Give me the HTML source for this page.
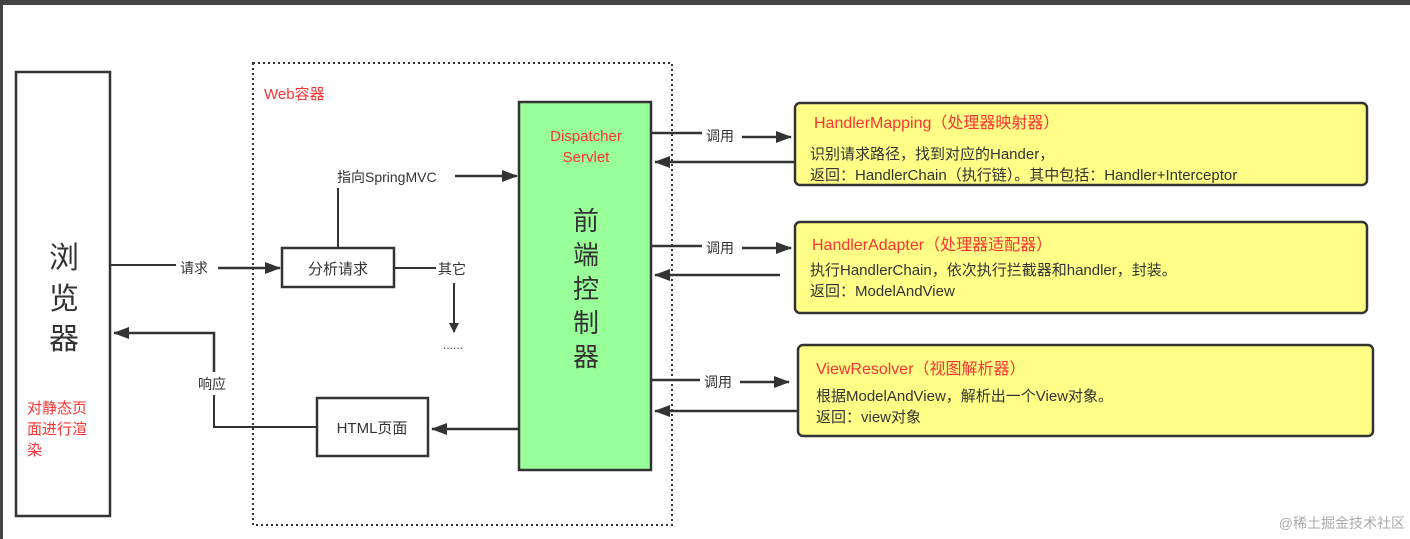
<!DOCTYPE html>
<html><head><meta charset="utf-8"><style>
html,body{margin:0;padding:0;background:#fff;}
svg{display:block;font-family:"Liberation Sans","Noto Sans CJK SC",sans-serif;}
</style></head><body>
<svg width="1410" height="539" viewBox="0 0 1410 539" xmlns="http://www.w3.org/2000/svg">
<defs>
<marker id="a" markerWidth="10" markerHeight="10" refX="9" refY="5" orient="auto" markerUnits="userSpaceOnUse">
<path d="M0,0 L10,5 L0,10 Z" fill="#333"/></marker>
<marker id="b" markerWidth="16" markerHeight="12" refX="15" refY="6" orient="auto" markerUnits="userSpaceOnUse">
<path d="M0,0 L16,6 L0,12 Z" fill="#333"/></marker>
</defs>
<rect x="0" y="0" width="1410" height="5" fill="#444"/>
<rect x="0" y="0" width="3" height="539" fill="#444"/>
<!-- browser -->
<rect x="16" y="72" width="94" height="444" fill="#fff" stroke="#333" stroke-width="2.5"/>
<g font-size="30" fill="#333" text-anchor="middle">
<text x="64" y="268">浏</text><text x="64" y="309">览</text><text x="64" y="349">器</text></g>
<g font-size="15" fill="#f33"><text x="27" y="413">对静态页</text><text x="27" y="434">面进行渲</text><text x="27" y="455">染</text></g>
<!-- web container -->
<rect x="253" y="63" width="419" height="462" fill="none" stroke="#333" stroke-width="2" stroke-dasharray="2,3"/>
<text x="264" y="99" font-size="15" fill="#f33">Web容器</text>
<!-- 分析请求 -->
<line x1="110" y1="265" x2="176" y2="265" stroke="#333" stroke-width="2"/>
<line x1="218" y1="268" x2="280" y2="268" stroke="#333" stroke-width="2.5" marker-end="url(#b)"/>
<text x="180" y="273" font-size="14" fill="#333">请求</text>
<rect x="282" y="248" width="112" height="39" fill="#fff" stroke="#333" stroke-width="2.5"/>
<text x="338" y="274" font-size="15" fill="#333" text-anchor="middle">分析请求</text>
<line x1="338" y1="248" x2="338" y2="188" stroke="#333" stroke-width="2"/>
<text x="337" y="182" font-size="14" fill="#333">指向SpringMVC</text>
<line x1="455" y1="176" x2="517" y2="176" stroke="#333" stroke-width="2.5" marker-end="url(#b)"/>
<line x1="394" y1="268" x2="436" y2="268" stroke="#333" stroke-width="2"/>
<text x="438" y="274" font-size="14" fill="#333">其它</text>
<line x1="454" y1="283" x2="454" y2="332" stroke="#333" stroke-width="2" marker-end="url(#a)"/>
<text x="443" y="349" font-size="12" fill="#333">......</text>
<!-- green -->
<rect x="519" y="102" width="132" height="368" fill="#99ff99" stroke="#333" stroke-width="2.5"/>
<g font-size="15" fill="#f33" text-anchor="middle"><text x="586" y="141">Dispatcher</text><text x="586" y="162">Servlet</text></g>
<g font-size="26" fill="#333" text-anchor="middle">
<text x="586" y="230">前</text><text x="586" y="264">端</text><text x="586" y="298">控</text><text x="586" y="332">制</text><text x="586" y="366">器</text></g>
<!-- HTML page -->
<rect x="317" y="398" width="111" height="58" fill="#fff" stroke="#333" stroke-width="2.5"/>
<text x="372" y="433" font-size="15" fill="#333" text-anchor="middle">HTML页面</text>
<line x1="519" y1="429" x2="432" y2="429" stroke="#333" stroke-width="2.5" marker-end="url(#b)"/>
<polyline points="317,427 214,427 214,395" fill="none" stroke="#333" stroke-width="2"/>
<polyline points="214,372 214,333 114,333" fill="none" stroke="#333" stroke-width="2.5" marker-end="url(#b)"/>
<text x="198" y="389" font-size="14" fill="#333">响应</text>
<!-- yellow boxes -->
<g fill="#ffff88" stroke="#333" stroke-width="2.5">
<rect x="795" y="103" width="572" height="82" rx="5"/>
<rect x="795" y="222" width="572" height="91" rx="5"/>
<rect x="798" y="345" width="575" height="91" rx="5"/></g>
<g stroke="#333" stroke-width="2.5" fill="none">
<line x1="651" y1="133" x2="702" y2="133"/><line x1="742" y1="137" x2="791" y2="137" marker-end="url(#b)"/>
<line x1="795" y1="162" x2="655" y2="162" marker-end="url(#b)"/>
<line x1="651" y1="246" x2="702" y2="246"/><line x1="742" y1="248" x2="791" y2="248" marker-end="url(#b)"/>
<line x1="780" y1="275" x2="655" y2="275" marker-end="url(#b)"/>
<line x1="651" y1="380" x2="700" y2="380"/><line x1="740" y1="382" x2="789" y2="382" marker-end="url(#b)"/>
<line x1="798" y1="411" x2="655" y2="411" marker-end="url(#b)"/>
</g>
<g font-size="14" fill="#333"><text x="706" y="141">调用</text><text x="706" y="253">调用</text><text x="704" y="387">调用</text></g>
<g font-size="16" fill="#f33">
<text x="814" y="128">HandlerMapping（处理器映射器）</text>
<text x="812" y="250">HandlerAdapter（处理器适配器）</text>
<text x="816" y="374">ViewResolver（视图解析器）</text></g>
<g font-size="15" fill="#333">
<text x="810" y="159">识别请求路径，找到对应的Hander，</text>
<text x="810" y="180">返回：HandlerChain（执行链）。其中包括：Handler+Interceptor</text>
<text x="810" y="275">执行HandlerChain，依次执行拦截器和handler，封装。</text>
<text x="810" y="296">返回：ModelAndView</text>
<text x="816" y="401">根据ModelAndView，解析出一个View对象。</text>
<text x="816" y="422">返回：view对象</text></g>
<text x="1405" y="528" font-size="14" fill="#aaa" text-anchor="end">@稀土掘金技术社区</text>
</svg>
</body></html>
